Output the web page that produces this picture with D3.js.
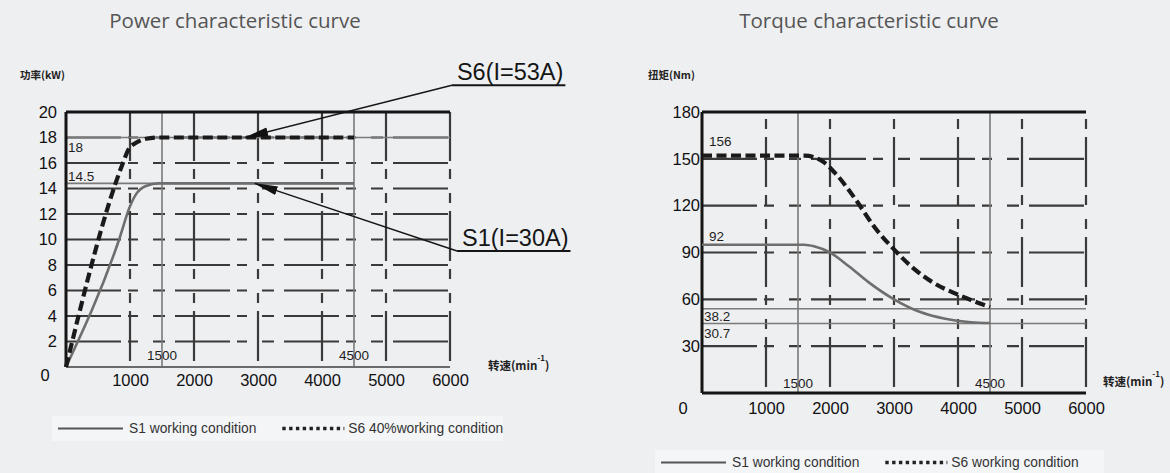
<!DOCTYPE html>
<html lang="en">
<head>
<meta charset="UTF-8">
<title>Power and torque characteristic curves</title>
<script src="https://d3js.org/d3.v7.min.js"></script>
<style>
  body { margin: 0; background: #eeeff1; }
  svg { display: block; }
  text { font-family: "Liberation Sans", Arial, sans-serif; }
</style>
</head>
<body>
<div id="chart"></div>
<script>
// speed axis (rpm), shared by both charts
const speedTicks = [1000, 2000, 3000, 4000, 5000, 6000];
const speedMarks = [1500, 4500];

// power chart (kW)
const powerTicks = [2, 4, 6, 8, 10, 12, 14, 16, 18, 20];
const powerS1 = [[0, 0], [830, 10], [1000, 12.6], [1100, 13.6], [1250, 14.2], [1450, 14.4], [4500, 14.4]];
const powerS6 = [[0, 0], [890, 16], [980, 17.1], [1100, 17.6], [1250, 17.9], [1450, 18], [4500, 18]];
const powerRefValues = [18, 14.4];
const powerRefLabels = ["18", "14.5"];
const powerRefEnds = [6000, 4500];
const powerNotes = ["S6(I=53A)", "S1(I=30A)"];
const powerNoteTips = [[2800, 18], [2950, 14.4]];
const powerNoteAnchors = [[6030, 22.1], [6110, 9.1]];
const powerLegend = ["S1 working condition", "S6 40%working condition"];

// torque chart (Nm)
const torqueTicks = [30, 60, 90, 120, 150, 180];
const torqueS1 = [[0, 95], [1600, 95], [1750, 94], [2000, 90], [2300, 81], [2600, 71], [3000, 60],
                  [3400, 52], [3800, 47.5], [4200, 45.3], [4500, 44.8]];
const torqueS6 = [[0, 152], [1600, 152], [1750, 151], [1900, 148], [2100, 140], [2400, 124], [2700, 106],
                  [3000, 92], [3300, 80], [3600, 71], [4000, 63], [4300, 58], [4500, 55]];
const torqueCurveLabels = ["92", "156"];
const torqueRefValues = [54, 44.5];
const torqueRefLabels = ["38.2", "30.7"];
const torqueLegend = ["S1 working condition", "S6 working condition"];

const W = 1170, H = 473;
const svg = d3.select("#chart").append("svg").attr("width", W).attr("height", H);
svg.append("rect").attr("width", W).attr("height", H).attr("fill", "#eeeff1");

// arrow head for the callouts
svg.append("defs").append("marker")
  .attr("id", "arrow")
  .attr("markerUnits", "userSpaceOnUse")
  .attr("markerWidth", 24).attr("markerHeight", 10)
  .attr("refX", 23).attr("refY", 5)
  .attr("orient", "auto")
  .append("path").attr("d", "M0,0.5 L24,5 L0,9.5 Z").attr("fill", "#111");

const gridDash = "55,7,10,15,12,10";
const vGridDash = "50,8,10,14,10,8";

function drawPanel(p) {
  const g = svg.append("g");
  const x = d3.scaleLinear().domain([0, 6000]).range([p.left, p.right]);
  const y = d3.scaleLinear().domain([0, p.yMax]).range([p.bottom, p.top]);

  // title
  g.append("text").attr("x", p.titleX).attr("y", 28)
    .attr("text-anchor", "middle")
    .style("font-family", "'Open Sans', 'Noto Sans', sans-serif")
    .style("font-size", "20.5px").attr("fill", "#555")
    .text(p.title);

  // y title
  g.append("text").attr("x", p.yTitleX).attr("y", 79)
    .style("font-family", "'Noto Sans CJK SC', sans-serif")
    .style("font-size", "10.5px").style("font-weight", "bold").attr("fill", "#222")
    .text(p.yTitle);

  // dashed horizontal grid
  g.selectAll(".hgrid").data(p.ticks.filter(t => t < p.yMax)).enter().append("line")
    .attr("x1", x(0)).attr("x2", x(6000))
    .attr("y1", d => y(d)).attr("y2", d => y(d))
    .attr("stroke", "#3a3a3a").attr("stroke-width", 2.2)
    .attr("stroke-dasharray", gridDash);

  // dashed vertical grid, drawn bottom-up
  g.selectAll(".vgrid").data(speedTicks).enter().append("line")
    .attr("x1", d => x(d)).attr("x2", d => x(d))
    .attr("y1", y(0)).attr("y2", y(p.yMax))
    .attr("stroke", "#3a3a3a").attr("stroke-width", 2.2)
    .attr("stroke-dasharray", vGridDash).attr("stroke-dashoffset", 94);

  // thin marks at 1500 and 4500
  g.selectAll(".vmark").data(speedMarks).enter().append("line")
    .attr("x1", d => x(d)).attr("x2", d => x(d))
    .attr("y1", y(0)).attr("y2", y(p.yMax))
    .attr("stroke", "#7a7a7a").attr("stroke-width", 1.6);
  g.selectAll(".vmarkLabel").data(speedMarks).enter().append("text")
    .attr("x", d => x(d)).attr("y", y(0) - p.markLabelLift)
    .attr("text-anchor", "middle")
    .style("font-size", "13.5px").attr("fill", "#1e1e1e")
    .text(d => d);

  // thin reference levels
  p.refValues.forEach((v, i) => {
    g.append("line")
      .attr("x1", x(0)).attr("x2", x(p.refEnds[i]))
      .attr("y1", y(v)).attr("y2", y(v))
      .attr("stroke", "#7a7a7a").attr("stroke-width", 1.6);
    g.append("text")
      .attr("x", x(0) + 2).attr("y", y(v) + p.refLabelDy[i])
      .style("font-size", "13.5px").attr("fill", "#1e1e1e")
      .text(p.refLabels[i]);
  });

  // frame
  g.append("line").attr("x1", x(0)).attr("x2", x(6000)).attr("y1", y(p.yMax)).attr("y2", y(p.yMax))
    .attr("stroke", "#151515").attr("stroke-width", 3);
  g.append("line").attr("x1", x(0)).attr("x2", x(0)).attr("y1", y(0)).attr("y2", y(p.yMax))
    .attr("stroke", "#151515").attr("stroke-width", 3);
  g.append("line").attr("x1", x(0)).attr("x2", x(6000)).attr("y1", y(0)).attr("y2", y(0))
    .attr("stroke", p.bottomColor).attr("stroke-width", p.bottomWidth);

  // curves
  const line = d3.line().x(d => x(d[0])).y(d => y(d[1])).curve(d3.curveMonotoneX);
  g.append("path").datum(p.s1).attr("d", line)
    .attr("fill", "none").attr("stroke", "#6e6e6e").attr("stroke-width", 2.6);
  g.append("path").datum(p.s6).attr("d", line)
    .attr("fill", "none").attr("stroke", "#1a1a1a").attr("stroke-width", 4.2)
    .attr("stroke-dasharray", "10,4.5");

  // curve level labels (torque)
  if (p.curveLabels) {
    [p.s1, p.s6].forEach((s, i) => {
      g.append("text").attr("x", x(0) + 7).attr("y", y(s[0][1]) - p.curveLabelDy[i])
        .style("font-size", "13.5px").attr("fill", "#1e1e1e")
        .text(p.curveLabels[i]);
    });
  }

  // axes labels
  const yAxis = g.append("g").attr("transform", `translate(${x(0)},0)`)
    .call(d3.axisLeft(y).tickValues(p.ticks).tickSize(0).tickPadding(p.yPad));
  yAxis.select(".domain").remove();
  yAxis.selectAll("text").style("font-size", "16.5px").style("font-family", "'Liberation Sans', Arial, sans-serif")
    .attr("fill", "#111");

  const xAxis = g.append("g").attr("transform", `translate(0,${y(0)})`)
    .call(d3.axisBottom(x).tickValues(speedTicks).tickFormat(d3.format("d")).tickSize(0).tickPadding(p.xPad));
  xAxis.select(".domain").remove();
  xAxis.selectAll("text").style("font-size", "16.5px").style("font-family", "'Liberation Sans', Arial, sans-serif")
    .attr("fill", "#111");

  g.append("text").attr("x", x(0) - p.zeroDx).attr("y", y(0) + p.zeroDy)
    .attr("text-anchor", "middle").attr("dy", "0.35em")
    .style("font-size", "16.5px").attr("fill", "#111").text("0");

  // speed title
  const st = g.append("text").attr("x", p.xTitleX).attr("y", p.xTitleY)
    .style("font-family", "'Noto Sans CJK SC', sans-serif")
    .style("font-size", "11.5px").style("font-weight", "bold").attr("fill", "#222");
  st.append("tspan").text("转速(min");
  st.append("tspan").attr("dy", -9).style("font-size", "8px").text("-1");
  st.append("tspan").attr("dy", 9).text(")");

  return { g, x, y };
}

function drawLegend(x0, y0, w, labels) {
  const g = svg.append("g");
  g.append("rect").attr("x", x0).attr("y", y0).attr("width", w).attr("height", 25).attr("fill", "#f4f5f7");
  const mid = y0 + 12.5;
  g.append("line").attr("x1", x0 + 6).attr("x2", x0 + 71).attr("y1", mid).attr("y2", mid)
    .attr("stroke", "#555").attr("stroke-width", 2);
  const t1 = g.append("text").attr("x", x0 + 77).attr("y", mid).attr("dy", "0.35em")
    .style("font-size", "13.8px").attr("fill", "#333").text(labels[0]);
  const sx = x0 + 77 + t1.node().getComputedTextLength() + 26;
  g.append("line").attr("x1", sx).attr("x2", sx + 62).attr("y1", mid).attr("y2", mid)
    .attr("stroke", "#222").attr("stroke-width", 3.6).attr("stroke-dasharray", "3.4,3.4");
  g.append("text").attr("x", sx + 66).attr("y", mid).attr("dy", "0.35em")
    .style("font-size", "13.8px").attr("fill", "#333").text(labels[1]);
}

const power = drawPanel({
  title: "Power characteristic curve", titleX: 235,
  yTitle: "功率(kW)", yTitleX: 20,
  left: 66, right: 450, top: 112, bottom: 367, yMax: 20,
  ticks: powerTicks, s1: powerS1, s6: powerS6,
  refValues: powerRefValues, refLabels: powerRefLabels, refEnds: powerRefEnds, refLabelDy: [14, -2],
  markLabelLift: 7, bottomColor: "#6a6a6a", bottomWidth: 2.2,
  yPad: 9, xPad: 7, zeroDx: 21, zeroDy: 8,
  xTitleX: 488, xTitleY: 370
});

// callouts on the power chart
powerNotes.forEach((label, i) => {
  const ax = power.x(powerNoteAnchors[i][0]), ay = power.y(powerNoteAnchors[i][1]);
  const t = power.g.append("text").attr("x", ax + 5).attr("y", ay - 5)
    .style("font-size", "23.5px").attr("fill", "#151515").text(label);
  const len = t.node().getComputedTextLength();
  power.g.append("line").attr("x1", ax).attr("x2", ax + len + 7).attr("y1", ay).attr("y2", ay)
    .attr("stroke", "#151515").attr("stroke-width", 1.8);
  power.g.append("line")
    .attr("x1", ax).attr("y1", ay)
    .attr("x2", power.x(powerNoteTips[i][0])).attr("y2", power.y(powerNoteTips[i][1]))
    .attr("stroke", "#151515").attr("stroke-width", 1.4)
    .attr("marker-end", "url(#arrow)");
});

drawPanel({
  title: "Torque characteristic curve", titleX: 869,
  yTitle: "扭矩(Nm)", yTitleX: 648,
  left: 702, right: 1086, top: 112, bottom: 393, yMax: 180,
  ticks: torqueTicks, s1: torqueS1, s6: torqueS6,
  curveLabels: torqueCurveLabels, curveLabelDy: [4, 10],
  refValues: torqueRefValues, refLabels: torqueRefLabels, refEnds: [6000, 6000], refLabelDy: [12, 14],
  markLabelLift: 5, bottomColor: "#151515", bottomWidth: 3,
  yPad: 2, xPad: 9, zeroDx: 19, zeroDy: 15,
  xTitleX: 1103, xTitleY: 386
});

drawLegend(52, 416, 451, powerLegend);
drawLegend(655, 450, 449, torqueLegend);
</script>
</body>
</html>
